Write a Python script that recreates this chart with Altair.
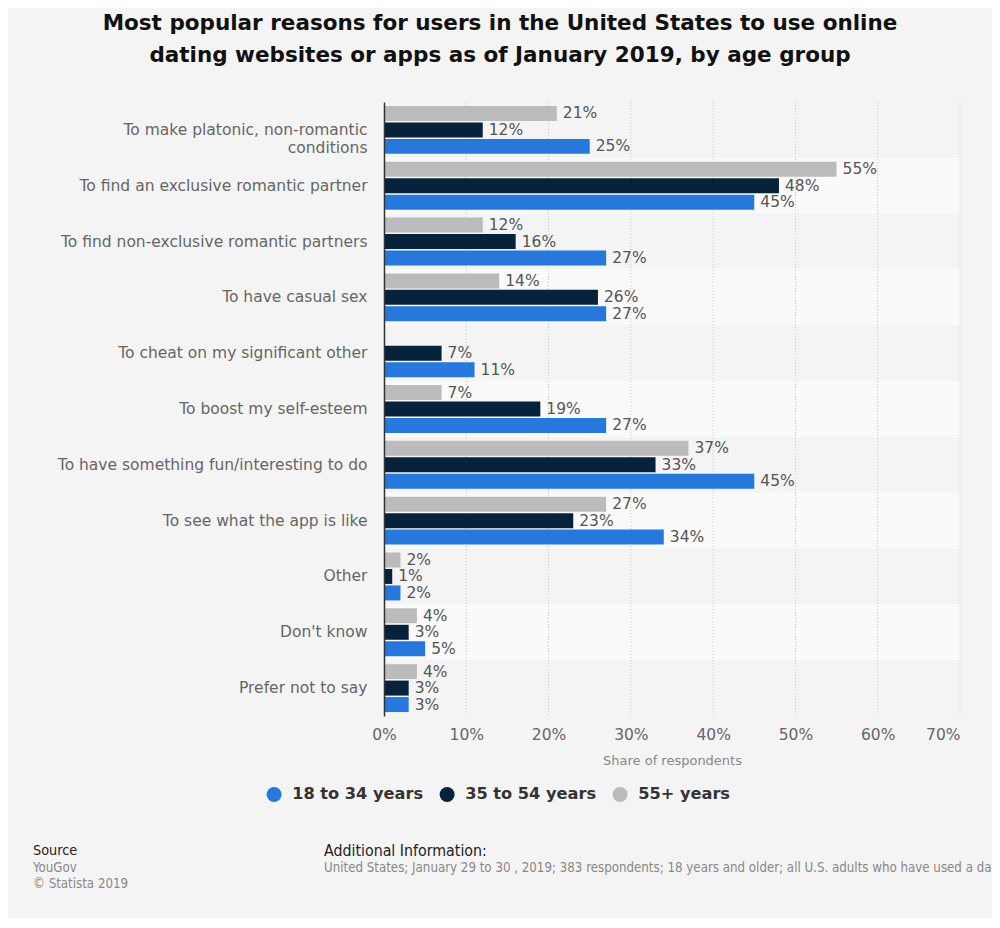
import altair as alt
import pandas as pd

categories = [
    "To make platonic, non-romantic conditions",
    "To find an exclusive romantic partner",
    "To find non-exclusive romantic partners",
    "To have casual sex",
    "To cheat on my significant other",
    "To boost my self-esteem",
    "To have something fun/interesting to do",
    "To see what the app is like",
    "Other",
    "Don't know",
    "Prefer not to say",
]
groups = ["18 to 34 years", "35 to 54 years", "55+ years"]
age_18_34 = [25, 45, 27, 27, 11, 27, 45, 34, 2, 5, 3]
age_35_54 = [12, 48, 16, 26, 7, 19, 33, 23, 1, 3, 3]
age_55_plus = [21, 55, 12, 14, None, 7, 37, 27, 2, 4, 4]
x_ticks = [0, 10, 20, 30, 40, 50, 60, 70]
colors = ["#2678dc", "#07223b", "#bbbbbb"]

rows = []
for series, vals in zip(groups, [age_18_34, age_35_54, age_55_plus]):
    for c, v in zip(categories, vals):
        if v is not None:
            rows.append({"cat": c, "grp": series, "value": v})
df = pd.DataFrame(rows)

stripes = pd.DataFrame({"cat": categories, "idx": list(range(len(categories)))})
grid_df = pd.DataFrame({"t": x_ticks[1:]})

W, H = 576, 614
TOTAL_W, TOTAL_H = 984, 910
FONT = "DejaVu Sans"
COND = "DejaVu Sans Condensed"

y_scale = alt.Scale(domain=categories, paddingInner=0, paddingOuter=0)

stripe_layer = alt.Chart(stripes).transform_filter("datum.idx % 2 == 1").mark_rect(
    fill="#fafafa"
).encode(
    y=alt.Y("cat:N", scale=y_scale, sort=categories,
            axis=alt.Axis(
                title=None, domain=True, domainColor="#333333", domainWidth=1.5,
                ticks=False, labelFontSize=15.5, labelColor="#666666", labelFont=FONT,
                labelPadding=17, labelLimit=360, labelLineHeight=18, zindex=1,
                labelExpr="datum.label == 'To make platonic, non-romantic conditions' ? ['To make platonic, non-romantic', 'conditions'] : datum.label",
            )),
    x=alt.value(0),
    x2=alt.value(W),
)

grid_layer = alt.Chart(grid_df).mark_rule(
    color="#c4c4c4", strokeDash=[1, 2], strokeWidth=1
).encode(
    x=alt.X("t:Q"),
    y=alt.value(0),
    y2=alt.value(H),
)

x_enc = alt.X(
    "value:Q",
    scale=alt.Scale(domain=[0, 70], nice=False),
    axis=alt.Axis(
        values=x_ticks, labelExpr="datum.value + '%'", grid=False, domain=False,
        ticks=False, labelFontSize=15.5, labelColor="#666666", labelFont=FONT,
        labelPadding=11,
        labelAlign={"condition": {"test": "datum.value == 70", "value": "right"}, "value": "center"},
        title="Share of respondents", titleFontSize=13, titleColor="#888888",
        titleFontWeight="normal", titleFont=FONT, titlePadding=12,
    ),
)
y_enc = alt.Y("cat:N", scale=y_scale, sort=categories)
yoff = alt.YOffset(
    "grp:N", sort=["55+ years", "35 to 54 years", "18 to 34 years"],
    scale=alt.Scale(paddingInner=0.09, paddingOuter=0.24),
)

bars = alt.Chart(df).mark_bar().encode(
    x=x_enc,
    y=y_enc,
    yOffset=yoff,
    color=alt.Color(
        "grp:N",
        scale=alt.Scale(domain=groups, range=colors),
        legend=alt.Legend(
            orient="none", legendX=-118, legendY=684, direction="horizontal",
            title=None, symbolType="circle", symbolSize=225, symbolStrokeWidth=0,
            labelFontSize=16.2, labelFontWeight="bold", labelColor="#333333",
            labelFont=FONT, columnPadding=15, labelOffset=10, labelLimit=300,
        ),
    ),
)

labels = alt.Chart(df).transform_calculate(
    label="datum.value + '%'"
).mark_text(
    align="left", baseline="middle", dx=6, fontSize=15.5, color="#555555", font=FONT
).encode(
    x=alt.X("value:Q"),
    y=y_enc,
    yOffset=yoff,
    text="label:N",
)

footer_src = alt.Chart(pd.DataFrame({"t": ["Source"]})).mark_text(
    align="left", baseline="middle", fontSize=14.3, color="#222222", font=COND
).encode(x=alt.value(-351), y=alt.value(749), text="t:N")
footer_src2 = alt.Chart(pd.DataFrame({"t": ["YouGov", "© Statista 2019"], "yy": [766, 782]})).mark_text(
    align="left", baseline="middle", fontSize=13.2, color="#888888", font=COND
).encode(x=alt.value(-351), y=alt.Y("yy:Q", scale=None), text="t:N")
footer_add = alt.Chart(pd.DataFrame({"t": ["Additional Information:"]})).mark_text(
    align="left", baseline="middle", fontSize=15.8, color="#222222", font=COND
).encode(x=alt.value(-60), y=alt.value(749), text="t:N")
footer_add2 = alt.Chart(pd.DataFrame({"t": [
    "United States; January 29 to 30 , 2019; 383 respondents; 18 years and older; all U.S. adults who have used a dating website or app"
]})).mark_text(
    align="left", baseline="middle", fontSize=13.2, color="#888888", font=COND
).encode(x=alt.value(-60), y=alt.value(766), text="t:N")

chart = alt.layer(
    stripe_layer, grid_layer, bars, labels,
    footer_src, footer_src2, footer_add, footer_add2,
).properties(
    width=W, height=H,
    autosize=alt.AutoSizeParams(type="none"),
    padding={"left": 376, "top": 94, "right": TOTAL_W - 376 - W, "bottom": TOTAL_H - 94 - H},
    title=alt.TitleParams(
        text=["Most popular reasons for users in the United States to use online",
              "dating websites or apps as of January 2019, by age group"],
        fontSize=21.5, fontWeight="bold", color="#111111", font=FONT,
        anchor="middle", dx=-172, lineHeight=32, offset=35,
    ),
).configure(
    background="#f4f4f4",
).configure_view(stroke=None)

chart.save("out.html", embed_options={"renderer": "svg", "actions": False})
